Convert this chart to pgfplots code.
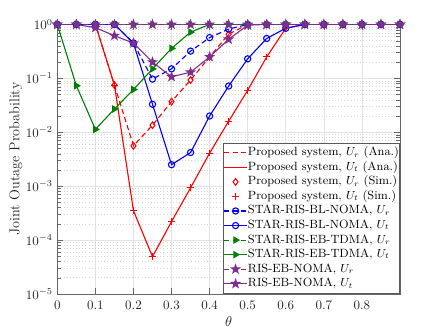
\documentclass[border=0pt]{standalone}
\usepackage{pgfplots}
\pgfplotsset{compat=1.18}
\usetikzlibrary{plotmarks}
\definecolor{mgreen}{RGB}{0,128,0}
\definecolor{mpurple}{RGB}{126,47,142}

% filled five-pointed star, like MATLAB's pentagram
\pgfdeclareplotmark{pentagram}{%
  \pgfpathmoveto{\pgfpointpolar{90}{\pgfplotmarksize}}%
  \pgfpathlineto{\pgfpointpolar{126}{0.4\pgfplotmarksize}}%
  \pgfpathlineto{\pgfpointpolar{162}{\pgfplotmarksize}}%
  \pgfpathlineto{\pgfpointpolar{198}{0.4\pgfplotmarksize}}%
  \pgfpathlineto{\pgfpointpolar{234}{\pgfplotmarksize}}%
  \pgfpathlineto{\pgfpointpolar{270}{0.4\pgfplotmarksize}}%
  \pgfpathlineto{\pgfpointpolar{306}{\pgfplotmarksize}}%
  \pgfpathlineto{\pgfpointpolar{342}{0.4\pgfplotmarksize}}%
  \pgfpathlineto{\pgfpointpolar{18}{\pgfplotmarksize}}%
  \pgfpathlineto{\pgfpointpolar{54}{0.4\pgfplotmarksize}}%
  \pgfpathclose
  \pgfusepathqfillstroke
}

% columns are joint outage probabilities against theta
\pgfplotstableread{
theta propR  propT  blR   blT    ebR ebT    risR risT
0     1      1      1     1      1   1      1    1
0.05  1      1      1     1      1   0.073  1    1
0.1   1      1      1     1      1   0.0113 1    0.87
0.15  0.075  0.075  1     1      1   0.027  1    0.62
0.2   5.6e-3 3.5e-4 0.45  0.45   1   0.062  1    0.45
0.25  0.0135 4.9e-5 0.097 0.033  1   0.15   1    0.2
0.3   0.037  2.2e-4 0.15  2.5e-3 1   0.36   1    0.107
0.35  0.093  9.3e-4 0.32  4.2e-3 1   0.72   1    0.13
0.4   0.25   4.1e-3 0.57  0.02   1   1      1    0.25
0.45  0.66   0.016  0.82  0.072  1   1      1    0.53
0.5   1      0.06   1     0.23   1   1      1    0.97
0.55  1      0.25   1     0.55   1   1      1    1
0.6   1      0.85   1     0.85   1   1      1    1
0.65  1      1      1     1      1   1      1    1
0.7   1      1      1     1      1   1      1    1
0.75  1      1      1     1      1   1      1    1
0.8   1      1      1     1      1   1      1    1
0.85  1      1      1     1      1   1      1    1
0.9   1      1      1     1      1   1      1    1
}\outage

\begin{document}
\begin{tikzpicture}
\useasboundingbox (-44.1pt,-29.2pt) rectangle (296.7pt,226.1pt);
\begin{axis}[
  name=ax,
  at={(0,0)}, anchor=south west,
  scale only axis,
  width=263.6pt, height=207.3pt,
  ymode=log,
  xmin=0, xmax=0.9,
  ymin=1e-5, ymax=1,
  xtick={0,0.1,0.2,0.3,0.4,0.5,0.6,0.7,0.8},
  ytick={1e-5,1e-4,1e-3,1e-2,1e-1,1},
  grid=both,
  major grid style={black!11},
  minor grid style={black!16, dotted},
  tick align=inside,
  axis line style={black!60},
  tick style={black!60},
  tick label style={font=\fontsize{10}{12}\selectfont, black!85},
  xticklabel style={yshift=-2pt},
  xlabel={$\theta$},
  ylabel={Joint Outage Probability},
  label style={font=\fontsize{11}{13}\selectfont, black!85},
  xlabel style={at={(axis description cs:0.5,-0.1027)}, anchor=center},
  ylabel style={at={(axis description cs:-0.1214,0.5)}, anchor=center},
  legend cell align={left},
  legend style={at={(1,0)}, anchor=south east, draw=black!65, fill=white,
    font=\fontsize{9.2}{11}\selectfont, inner xsep=0.3pt, inner ysep=2pt, row sep=0pt,
    nodes={inner xsep=0.3pt, inner ysep=1.2pt, text height=6.7pt, text depth=2.1pt}},
  legend image code/.code={\draw[mark repeat=2,mark phase=2,#1] plot coordinates {(0cm,0cm) (0.31cm,0cm) (0.62cm,0cm)};},
  every axis plot/.append style={line width=0.85pt},
]
\addplot[color=red, dash pattern=on 4pt off 2.5pt] table[x=theta, y=propR] {\outage};
\addlegendentry{Proposed system, $U_r$ (Ana.)}
\addplot[color=red] table[x=theta, y=propT] {\outage};
\addlegendentry{Proposed system, $U_t$ (Ana.)}
\addplot[color=red, only marks, mark=diamond, mark size=2.6pt, line width=0.8pt] table[x=theta, y=propR] {\outage};
\addlegendentry{Proposed system, $U_r$ (Sim.)}
\addplot[color=red, only marks, mark=+, mark size=2.6pt, line width=0.8pt] table[x=theta, y=propT] {\outage};
\addlegendentry{Proposed system, $U_t$ (Sim.)}
\addplot[color=blue, dash pattern=on 4pt off 2.5pt, mark=o, mark size=2.4pt, mark options={solid}] table[x=theta, y=blR] {\outage};
\addlegendentry{STAR-RIS-BL-NOMA, $U_r$}
\addplot[color=blue, mark=o, mark size=2.4pt] table[x=theta, y=blT] {\outage};
\addlegendentry{STAR-RIS-BL-NOMA, $U_t$}
\addplot[color=mgreen, dash pattern=on 4pt off 2.5pt, mark=triangle*, mark size=2.6pt, mark options={solid, rotate=-90}] table[x=theta, y=ebR] {\outage};
\addlegendentry{STAR-RIS-EB-TDMA, $U_r$}
\addplot[color=mgreen, mark=triangle*, mark size=2.6pt, mark options={rotate=-90}] table[x=theta, y=ebT] {\outage};
\addlegendentry{STAR-RIS-EB-TDMA, $U_t$}
\addplot[color=mpurple, dash pattern=on 4pt off 2.5pt, mark=pentagram, mark size=3.2pt, mark options={solid}] table[x=theta, y=risR] {\outage};
\addlegendentry{RIS-EB-NOMA, $U_r$}
\addplot[color=mpurple, mark=pentagram, mark size=3.2pt] table[x=theta, y=risT] {\outage};
\addlegendentry{RIS-EB-NOMA, $U_t$}
\end{axis}
\end{tikzpicture}
\end{document}
